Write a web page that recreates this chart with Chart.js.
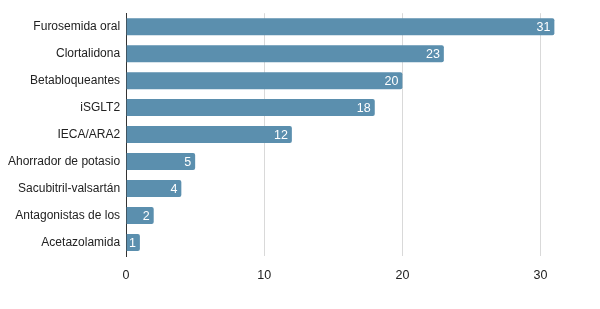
<!DOCTYPE html>
<html>
<head>
<meta charset="utf-8">
<script src="https://cdn.jsdelivr.net/npm/chart.js@4"></script>
<style>
  html, body { margin: 0; padding: 0; background: #fff; }
  #wrap { width: 600px; height: 309px; }
</style>
</head>
<body>
<div id="wrap"><canvas id="barChart"></canvas></div>
<script>
const categories = [
  'Furosemida oral',
  'Clortalidona',
  'Betabloqueantes',
  'iSGLT2',
  'IECA/ARA2',
  'Ahorrador de potasio',
  'Sacubitril-valsartán',
  'Antagonistas de los',
  'Acetazolamida'
];
const counts = [31, 23, 20, 18, 12, 5, 4, 2, 1];
const xTicks = [0, 10, 20, 30];

// draws the value at the right end of each bar
const barValues = {
  id: 'barValues',
  afterDatasetsDraw(chart) {
    const ctx = chart.ctx;
    const meta = chart.getDatasetMeta(0);
    ctx.save();
    ctx.font = '12.5px "Liberation Sans", Arial, sans-serif';
    ctx.fillStyle = '#ffffff';
    ctx.textAlign = 'right';
    ctx.textBaseline = 'middle';
    meta.data.forEach((bar, i) => {
      ctx.fillText(String(counts[i]), bar.x - 4, bar.y + 1);
    });
    ctx.restore();
  }
};

const ctx = document.querySelector('#barChart').getContext('2d');
new Chart(ctx, {
  type: 'bar',
  data: {
    labels: categories,
    datasets: [{
      data: counts,
      backgroundColor: '#5b8fae',
      borderRadius: 2,
      borderSkipped: 'start',
      barPercentage: 0.63,
      categoryPercentage: 1
    }]
  },
  options: {
    indexAxis: 'y',
    responsive: true,
    maintainAspectRatio: false,
    animation: false,
    layout: { padding: { top: 12, right: 18, bottom: 14, left: 2 } },
    plugins: {
      legend: { display: false },
      tooltip: { enabled: false }
    },
    scales: {
      x: {
        min: 0,
        max: 33,
        afterBuildTicks: (scale) => {
          scale.ticks = xTicks.map(v => ({ value: v }));
        },
        grid: { color: '#d9d9d9', lineWidth: 1, drawTicks: false },
        border: { display: false },
        ticks: {
          color: '#222',
          padding: 12,
          font: { family: '"Liberation Sans", Arial, sans-serif', size: 12.5 }
        }
      },
      y: {
        grid: { display: false, drawTicks: false },
        border: { display: true, color: '#333', width: 1 },
        ticks: {
          color: '#222',
          padding: 6,
          font: { family: '"Liberation Sans", Arial, sans-serif', size: 12 }
        }
      }
    }
  },
  plugins: [barValues]
});
</script>
</body>
</html>
